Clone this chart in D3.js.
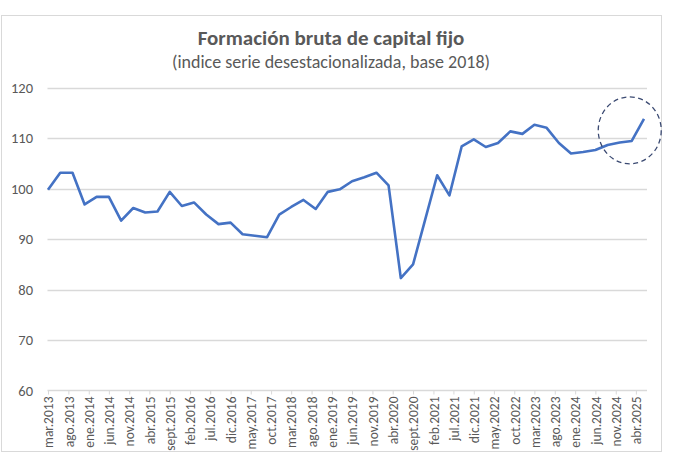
<!DOCTYPE html>
<html>
<head>
<meta charset="utf-8">
<script src="https://cdn.jsdelivr.net/npm/d3@7"></script>
<style>
  body { margin: 0; background: #fff; }
  svg { display: block; font-family: Calibri, Carlito, Lato, sans-serif; }
</style>
</head>
<body>
<svg id="chart" width="680" height="474"></svg>
<script>
// quarterly series, first quarter = mar.2013
const firstMonth = new Date(2013, 2, 1);
const values = [
  99.8, 103.2, 103.2, 96.9, 98.4, 98.4, 93.7, 96.2, 95.3, 95.5,
  99.4, 96.6, 97.3, 94.9, 93.0, 93.3, 91.0, 90.7, 90.4, 94.9,
  96.4, 97.8, 96.0, 99.4, 99.9, 101.5, 102.3, 103.2, 100.7, 82.3,
  85.0, 93.9, 102.7, 98.7, 108.4, 109.8, 108.3, 109.1, 111.4, 110.9,
  112.7, 112.1, 109.1, 107.0, 107.3, 107.7, 108.7, 109.2, 109.5, 113.9
];
const yTicks = [60, 70, 80, 90, 100, 110, 120];
const monthNames = ["ene", "feb", "mar", "abr", "may", "jun", "jul", "ago", "sept", "oct", "nov", "dic"];
const titleText = "Formación bruta de capital fijo";
const subtitleText = "(indice serie desestacionalizada, base 2018)";

const svg = d3.select("#chart");
const dates = values.map((v, i) => d3.timeMonth.offset(firstMonth, i * 3));
const data = values.map((v, i) => ({ date: dates[i], value: v }));

const plot = { left: 47.5, right: 647, top: 88, bottom: 390.5 };

const x = d3.scaleTime()
  .domain([firstMonth, dates[dates.length - 1]])
  .range([48, 644]);
const y = d3.scaleLinear()
  .domain([60, 120])
  .range([plot.bottom, plot.top]);

// chart frame
svg.append("rect")
  .attr("x", 1.5).attr("y", 15.5)
  .attr("width", 660).attr("height", 436)
  .attr("fill", "#fff")
  .attr("stroke", "#d9d9d9");

// titles
svg.append("text")
  .attr("x", 331).attr("y", 45)
  .attr("text-anchor", "middle")
  .attr("font-size", 21).attr("font-weight", "bold")
  .attr("fill", "#595959")
  .text(titleText);
svg.append("text")
  .attr("x", 331).attr("y", 68)
  .attr("text-anchor", "middle")
  .attr("font-size", 18)
  .attr("fill", "#595959")
  .text(subtitleText);

// gridlines
svg.append("g")
  .selectAll("line")
  .data(yTicks.filter(d => d > 60))
  .join("line")
  .attr("x1", plot.left).attr("x2", plot.right)
  .attr("y1", d => Math.round(y(d)) + 0.5).attr("y2", d => Math.round(y(d)) + 0.5)
  .attr("stroke", "#d9d9d9").attr("stroke-width", 1.3);

// y labels
svg.append("g")
  .selectAll("text")
  .data(yTicks)
  .join("text")
  .attr("x", 33).attr("y", d => y(d))
  .attr("dy", "0.35em")
  .attr("text-anchor", "end")
  .attr("font-size", 14.5)
  .attr("fill", "#595959")
  .text(d => d);

// x axis
const xTicks = d3.range(0, 146, 5).map(m => d3.timeMonth.offset(firstMonth, m));
const fmt = d => monthNames[d.getMonth()] + "." + d.getFullYear();

const xAxis = svg.append("g")
  .attr("transform", `translate(0,${plot.bottom})`)
  .call(d3.axisBottom(x).tickValues(xTicks).tickSize(4).tickFormat(fmt));
xAxis.select(".domain").remove();
xAxis.append("line")
  .attr("x1", plot.left).attr("x2", plot.right)
  .attr("stroke", "#d9d9d9").attr("stroke-width", 1.3);
xAxis.selectAll(".tick line").attr("stroke", "#d9d9d9");
xAxis.selectAll(".tick text")
  .attr("font-family", "Calibri, Carlito, Lato, sans-serif")
  .attr("font-size", 13.5)
  .attr("fill", "#595959")
  .attr("text-anchor", "end")
  .attr("transform", "rotate(-90)")
  .attr("x", -6).attr("y", 0).attr("dy", "0.35em");

// series line
svg.append("path")
  .datum(data)
  .attr("fill", "none")
  .attr("stroke", "#4472c4")
  .attr("stroke-width", 2.6)
  .attr("stroke-linejoin", "round")
  .attr("d", d3.line().x(d => x(d.date)).y(d => y(d.value)));

// dashed highlight around the last quarters
svg.append("ellipse")
  .attr("cx", x(dates[48]) - 2).attr("cy", y(111.6))
  .attr("rx", 31.5).attr("ry", 33.5)
  .attr("fill", "none")
  .attr("stroke", "#3b4a72")
  .attr("stroke-width", 1.3)
  .attr("stroke-dasharray", "5,3.5");
</script>
</body>
</html>
